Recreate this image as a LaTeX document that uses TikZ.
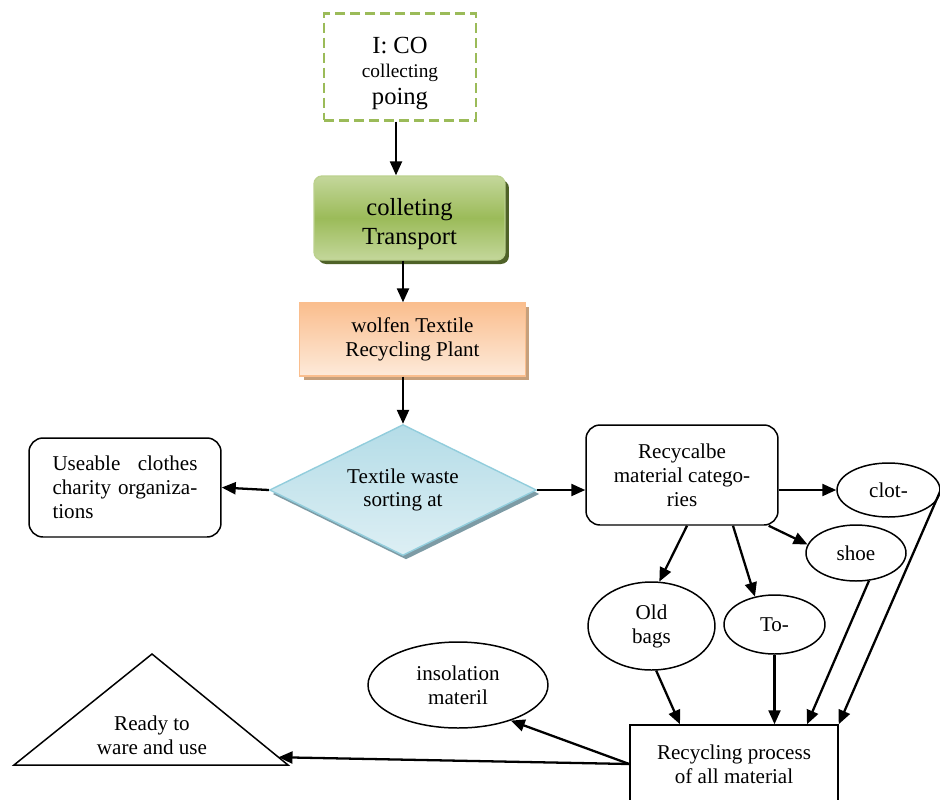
\documentclass[tikz,border=0pt]{standalone}
\usepackage{fontspec}
\setmainfont{Liberation Serif}
\usetikzlibrary{calc,arrows.meta,positioning,shapes.geometric,shadows}
\definecolor{dashgreen}{RGB}{155,187,89}
\definecolor{greenlight}{RGB}{196,215,155}
\definecolor{greendark}{RGB}{79,98,40}
\definecolor{orangetop}{RGB}{250,190,142}
\definecolor{orangebot}{RGB}{253,234,218}
\definecolor{orangeshadow}{RGB}{198,160,124}
\definecolor{bluetop}{RGB}{180,220,231}
\definecolor{bluebot}{RGB}{221,239,244}
\definecolor{blueline}{RGB}{146,205,220}
\definecolor{blueshadow}{RGB}{125,155,165}

\begin{document}
\begin{tikzpicture}[x=0.02cm,y=-0.02cm]

\tikzset{flowarrow/.style={-{Triangle[length=0.28cm,width=0.24cm]},line width=1.3pt},
textfont/.style={font=\fontsize{12}{13.6}\selectfont},
plainbox/.style={textfont,draw,line width=0.85pt,rounded corners=0.28cm,align=center,inner sep=0pt},
oval/.style={textfont,draw,shape=ellipse,line width=0.85pt,align=center,inner sep=0pt}}

\useasboundingbox (0,0) rectangle (940,799);
\clip (0,0) rectangle (940,799);

% top of the chain
\node[draw=dashgreen,line width=1.4pt,dash pattern=on 0.2cm off 0.1cm,minimum width=3.04cm,minimum height=2.14cm,align=center,inner sep=0pt,
  font=\fontsize{14}{13.6}\selectfont,text height=1.61cm] (collect) at (400,67)
  {I: CO\\{\fontsize{11}{13}\selectfont collecting}\\[2pt]poing};
\node[draw=greenlight!80!dashgreen,line width=0.8pt,rounded corners=0.16cm,top color=greenlight,bottom color=greenlight,middle color=dashgreen,
  drop shadow={shadow xshift=0.08cm,shadow yshift=-0.08cm,fill=greendark,opacity=1},
  minimum width=3.82cm,minimum height=1.68cm,text height=1.16cm,align=center,font=\fontsize{14}{16.5}\selectfont] (transport) at (409.5,218) {colleting\\Transport};
\node[textfont,draw=orangetop,line width=0.8pt,top color=orangetop,bottom color=orangebot,
  drop shadow={shadow xshift=0.08cm,shadow yshift=-0.08cm,fill=orangeshadow,opacity=1},
  minimum width=4.52cm,minimum height=1.46cm,align=center] (plant) at (412.5,339.5) {wolfen Textile\\Recycling Plant};
\node[textfont,shape=diamond,draw=blueline,line width=0.8pt,top color=bluetop,bottom color=bluebot,
  drop shadow={shadow xshift=0.06cm,shadow yshift=-0.08cm,fill=blueshadow,opacity=1},
  aspect=2,minimum width=5.34cm,minimum height=2.62cm,inner sep=0pt,align=center] (sorting) at (403,490) {Textile waste\\sorting at};

% sorting results
\node[plainbox,minimum width=3.84cm,minimum height=1.98cm,text width=2.9cm,align=left] (charity) at (125,487.5)
  {\makebox[2.9cm][l]{Useable\hfill clothes}\\charity organiza-\\tions};
\node[plainbox,minimum width=3.84cm,minimum height=2cm] (categories) at (682,475) {Recycalbe\\material catego-\\ries};

% material categories
\node[oval,minimum width=2.06cm,minimum height=1.08cm] (clot) at (888.5,490) {clot-};
\node[oval,minimum width=2cm,minimum height=1.12cm] (shoe) at (856,553) {shoe};
\node[oval,minimum width=2.54cm,minimum height=1.76cm] (bags) at (651.5,626) {Old\\bags};
\node[oval,minimum width=2.02cm,minimum height=1.18cm] (to) at (774.5,624.5) {To-};
\node[oval,minimum width=3.6cm,minimum height=1.72cm] (insol) at (458,685) {insolation\\materil};

% recycling and end products
\node[textfont,draw,line width=0.85pt,minimum width=4.16cm,minimum height=1.56cm,align=center] (process) at (734,764) {Recycling process\\of all material};
\draw[line width=0.85pt] (152,654) coordinate (apex) -- (288,765) coordinate (baseR) -- (14,765) coordinate (baseL) -- cycle;
\coordinate (readytip) at ($(apex)!0.93!(baseR)$);
\node[textfont,align=center] (ready) at (152,735) {Ready to\\ware and use};

% Edges
\draw[flowarrow] ([xshift=-0.08cm]collect.south) -- ([xshift=-0.08cm]collect.south |- transport.north);
\draw[flowarrow] (transport.south -| sorting.north) -- (plant.north -| sorting.north);
\draw[flowarrow] (plant.south -| sorting.north) -- (sorting.north);
\draw[flowarrow] (sorting.west) -- (charity.east);
\draw[flowarrow] (sorting.east) -- (sorting.east -| categories.west);
\draw[flowarrow] (categories.east |- clot.west) -- (clot.west);
\draw[flowarrow] ([xshift=-0.2cm]categories.south east) -- (shoe.170);
\draw[flowarrow] ([xshift=0.1cm]categories.south) -- (bags.80);
\draw[flowarrow] ([xshift=1.02cm]categories.south) -- (to.125);
\draw[flowarrow] (bags.-84) -- ([xshift=-1.08cm]process.north);
\draw[flowarrow] (to.south) -- (to.south |- process.north);
\draw[flowarrow] (shoe.-65) -- ([xshift=1.46cm]process.north);
\draw[flowarrow] (clot.east) -- (process.north east);
\draw[flowarrow] (process.west) -- (insol.-34);
\draw[flowarrow] (process.west) -- (readytip);

\end{tikzpicture}
\end{document}
